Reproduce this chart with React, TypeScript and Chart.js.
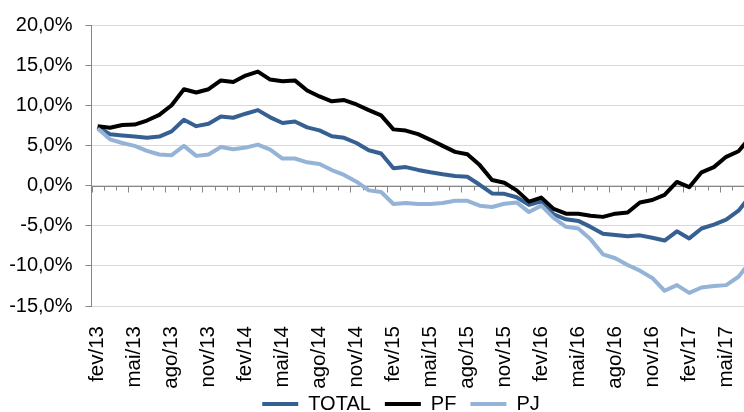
import React, { useEffect, useRef } from "react";
import { Chart, registerables } from "chart.js";

Chart.register(...registerables);

const months: string[] = [
  "fev/13", "mar/13", "abr/13", "mai/13", "jun/13", "jul/13", "ago/13", "set/13", "out/13", "nov/13", "dez/13",
  "jan/14", "fev/14", "mar/14", "abr/14", "mai/14", "jun/14", "jul/14", "ago/14", "set/14", "out/14", "nov/14", "dez/14",
  "jan/15", "fev/15", "mar/15", "abr/15", "mai/15", "jun/15", "jul/15", "ago/15", "set/15", "out/15", "nov/15", "dez/15",
  "jan/16", "fev/16", "mar/16", "abr/16", "mai/16", "jun/16", "jul/16", "ago/16", "set/16", "out/16", "nov/16", "dez/16",
  "jan/17", "fev/17", "mar/17", "abr/17", "mai/17", "jun/17", "jul/17",
];

const totalValues: number[] = [
  7.3, 6.4, 6.25, 6.1, 5.97, 6.1, 6.75, 8.2, 7.4, 7.7, 8.6,
  8.45, 8.95, 9.4, 8.5, 7.8, 7.98, 7.25, 6.87, 6.15, 5.95, 5.3, 4.4,
  4.0, 2.15, 2.3, 1.95, 1.65, 1.4, 1.2, 1.1, 0.1, -0.98, -1.03, -1.45,
  -2.4, -1.95, -3.6, -4.2, -4.4, -5.15, -6.0, -6.15, -6.3, -6.2, -6.5, -6.85,
  -5.7, -6.58, -5.35, -4.86, -4.24, -3.13, -1.2,
];

const pfValues: number[] = [
  7.4, 7.2, 7.55, 7.6, 8.1, 8.8, 10.0, 12.0, 11.6, 12.0, 13.1,
  12.9, 13.7, 14.2, 13.2, 13.0, 13.1, 11.85, 11.1, 10.5, 10.65, 10.1, 9.4,
  8.75, 7.0, 6.85, 6.4, 5.7, 4.95, 4.2, 3.9, 2.55, 0.7, 0.35, -0.6,
  -2.0, -1.5, -2.9, -3.5, -3.5, -3.75, -3.9, -3.5, -3.35, -2.1, -1.8, -1.15,
  0.45, -0.2, 1.65, 2.3, 3.58, 4.28, 6.1,
];

const pjValues: number[] = [
  7.1, 5.76, 5.3, 4.94, 4.32, 3.87, 3.79, 4.94, 3.7, 3.87, 4.81,
  4.53, 4.73, 5.1, 4.48, 3.37, 3.37, 2.9, 2.68, 1.93, 1.32, 0.49, -0.6,
  -0.8, -2.3, -2.18, -2.3, -2.3, -2.18, -1.9, -1.9, -2.5, -2.67, -2.26, -2.1,
  -3.3, -2.5, -4.03, -5.14, -5.35, -6.7, -8.56, -9.05, -9.9, -10.6, -11.5, -13.1,
  -12.4, -13.37, -12.7, -12.5, -12.4, -11.36, -9.4,
];

const yTicks: number[] = [-15, -10, -5, 0, 5, 10, 15, 20];

const FONT = "'Liberation Sans', Arial, sans-serif";

const zeroAxisPlugin = {
  id: "zeroAxis",
  afterLayout(chart: any) {
    // let rotated x labels run into the legend band (as in the original) and centre the legend
    chart.scales.x.bottom = chart.height;
    if (chart.legend) chart.legend.left = 45;
  },
  beforeDatasetsDraw(chart: any) {
    const { ctx, chartArea, scales } = chart;
    const x = scales.x;
    const y = scales.y;
    const y0 = Math.round(y.getPixelForValue(0)) + 0.5;
    const n = x.getLabels().length;
    ctx.save();
    ctx.strokeStyle = "#868686";
    ctx.lineWidth = 1;
    ctx.beginPath();
    ctx.moveTo(chartArea.left, y0);
    ctx.lineTo(chartArea.right, y0);
    for (let i = 0; i <= n; i++) {
      const px = Math.round(x.getPixelForValue(i - 0.5)) + 0.5;
      const len = i % 3 === 0 ? 6 : 4;
      ctx.moveTo(px, y0);
      ctx.lineTo(px, y0 + len);
    }
    ctx.stroke();
    ctx.restore();
  },
};

export default function App() {
  const canvasRef = useRef<HTMLCanvasElement | null>(null);

  useEffect(() => {
    if (!canvasRef.current) return;
    const chart = new Chart(canvasRef.current, {
      type: "line",
      data: {
        labels: months,
        datasets: [
          {
            label: "TOTAL",
            data: totalValues,
            borderColor: "#376092",
            backgroundColor: "#376092",
            borderWidth: 4,
            pointRadius: 0,
            tension: 0,
            order: 3,
            borderJoinStyle: "round",
          },
          {
            label: "PF",
            data: pfValues,
            borderColor: "#000000",
            backgroundColor: "#000000",
            borderWidth: 4,
            pointRadius: 0,
            tension: 0,
            order: 2,
            borderJoinStyle: "round",
          },
          {
            label: "PJ",
            data: pjValues,
            borderColor: "#95b3d7",
            backgroundColor: "#95b3d7",
            borderWidth: 4,
            pointRadius: 0,
            tension: 0,
            order: 1,
            borderJoinStyle: "round",
          },
        ],
      },
      options: {
        responsive: false,
        animation: false,
        devicePixelRatio: 1,
        layout: { padding: { left: 0, right: 3, top: 22, bottom: 0 } },
        plugins: {
          tooltip: { enabled: false },
          legend: {
            position: "bottom",
            labels: {
              boxWidth: 36,
              boxHeight: 4,
              padding: 14,
              color: "#000",
              font: { family: FONT, size: 20 },
              sort: (a: any, b: any) => a.datasetIndex - b.datasetIndex,
              generateLabels: (c: any) =>
                Chart.defaults.plugins.legend.labels
                  .generateLabels(c)
                  .map((l: any) => ({ ...l, lineWidth: 0, fillStyle: l.strokeStyle })),
            },
          },
        },
        scales: {
          x: {
            type: "category",
            offset: true,
            grid: { display: false },
            border: { display: false },
            ticks: {
              autoSkip: false,
              minRotation: 90,
              maxRotation: 90,
              padding: 12,
              color: "#000",
              font: { family: FONT, size: 20.5 },
              callback: (_v: any, idx: number) => (idx % 3 === 0 ? months[idx] : ""),
            },
            afterFit: (s: any) => {
              s.height = 74;
              s.paddingLeft = 0;
              s.paddingRight = 0;
            },
          },
          y: {
            min: -15,
            max: 20,
            afterBuildTicks: (s: any) => {
              s.ticks = yTicks.map((v) => ({ value: v }));
            },
            grid: {
              color: "#d9d9d9",
              lineWidth: 1,
              tickColor: "#868686",
              tickLength: 6,
            },
            border: { display: true, color: "#868686", width: 1 },
            ticks: {
              padding: 13,
              color: "#000",
              font: { family: FONT, size: 20 },
              callback: (v: any) => Number(v).toFixed(1).replace(".", ",") + "%",
            },
            afterFit: (s: any) => {
              s.width = 91.5;
            },
          },
        },
      },
      plugins: [zeroAxisPlugin],
    });
    return () => chart.destroy();
  }, []);

  return (
    <div
      style={{
        position: "fixed",
        left: 0,
        top: 0,
        width: 744,
        height: 412,
        overflow: "hidden",
        background: "#fff",
      }}
    >
      <canvas
        ref={canvasRef}
        width={760}
        height={424}
        style={{ width: "760px", height: "424px", display: "block" }}
      />
    </div>
  );
}
